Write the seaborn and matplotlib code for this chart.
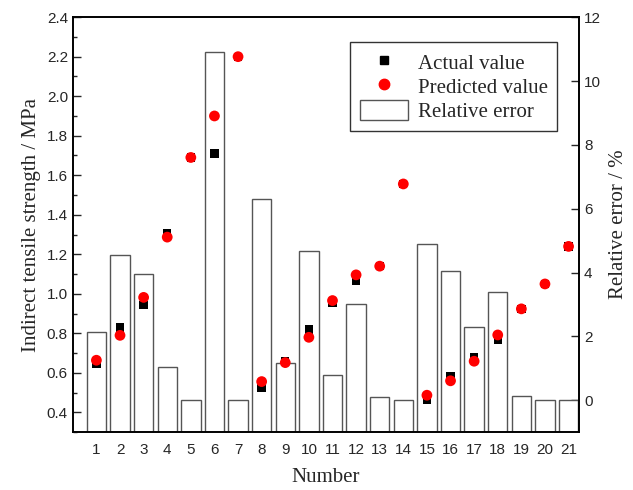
"""Indirect tensile strength: actual vs predicted, with relative error bars"""

import numpy as np
import matplotlib
matplotlib.use('Agg')
import matplotlib.pyplot as plt
import seaborn as sns
from matplotlib.lines import Line2D
from matplotlib.patches import Patch

# Data
numbers = list(range(1, 22))
actual = [0.645, 0.83, 0.945, 1.305, 1.69, 1.71, 2.20, 0.525, 0.66, 0.82, 0.955,
          1.064, 1.14, 1.556, 0.465, 0.585, 0.678, 0.768, 0.924, 1.05, 1.24]
predicted = [0.664, 0.79, 0.982, 1.287, 1.69, 1.90, 2.20, 0.556, 0.652, 0.78, 0.966,
             1.096, 1.14, 1.556, 0.487, 0.56, 0.659, 0.792, 0.924, 1.05, 1.24]
rel_error = [2.15, 4.54, 3.94, 1.04, 0.02, 10.92, 0.01, 6.29, 1.18, 4.66, 0.80,
             3.03, 0.10, 0.02, 4.90, 4.05, 2.30, 3.40, 0.13, 0.02, 0.02]

sns.set_style('ticks')
plt.rcParams['font.family'] = ['Liberation Sans', 'DejaVu Sans']
serif = ['Liberation Serif', 'DejaVu Serif']

fig = plt.figure(figsize=(6.33, 4.9), dpi=100)
ax1 = fig.add_axes([0.115, 0.118, 0.8, 0.847])
ax2 = ax1.twinx()

# Relative error columns on the right axis, drawn from the axis bottom
err_bottom = -1
ax2.bar(numbers, np.array(rel_error) - err_bottom, bottom=err_bottom, width=0.82,
        facecolor='white', edgecolor='#555555', linewidth=1.0)
ax2.set_ylim(-1, 12)
ax2.set_yticks([0, 2, 4, 6, 8, 10, 12])
ax2.set_ylabel('Relative error / %', family=serif, fontsize=15, labelpad=6)

# Points on the left axis, kept above the bars
ax1.set_zorder(ax2.get_zorder() + 1)
ax1.patch.set_visible(False)
sns.scatterplot(x=numbers, y=actual, marker='s', s=36, color='black',
                edgecolor='none', ax=ax1)
sns.scatterplot(x=numbers, y=predicted, marker='o', s=60, color='red',
                edgecolor='none', ax=ax1)
ax1.set_xlim(0.0, 21.45)
ax1.set_ylim(0.3, 2.4)
ax1.set_yticks(np.arange(0.4, 2.41, 0.2))
ax1.set_yticks(np.arange(0.3, 2.41, 0.2), minor=True)
ax1.set_xticks(numbers)
ax1.set_ylabel('Indirect tensile strength / MPa', family=serif, fontsize=15, labelpad=4)
ax1.set_xlabel('Number', family=serif, fontsize=15, labelpad=8)

ax1.tick_params(axis='y', direction='in', length=6, width=1, labelsize=11)
ax1.tick_params(axis='y', which='minor', direction='in', length=3, width=1)
ax1.tick_params(axis='x', length=0, labelsize=11, pad=8)
ax2.tick_params(axis='y', direction='in', length=6, width=1, labelsize=11)
for ax in (ax1, ax2):
    for sp in ax.spines.values():
        sp.set_linewidth(1.2)
        sp.set_color('black')

handles = [
    Line2D([], [], marker='s', color='black', linestyle='none', markersize=6),
    Line2D([], [], marker='o', color='red', linestyle='none', markersize=7.5),
    Patch(facecolor='white', edgecolor='#555555', linewidth=1.0),
]
labels = ['Actual value', 'Predicted value', 'Relative error']
leg = ax1.legend(handles, labels, loc='upper right', bbox_to_anchor=(0.957, 0.94),
                 prop={'family': serif, 'size': 15}, frameon=True, fancybox=False,
                 edgecolor='black', borderpad=0.45, labelspacing=0.1,
                 handlelength=2.3, handleheight=1.1, handletextpad=0.5,
                 borderaxespad=0)
leg.get_frame().set_linewidth(1.0)

fig.savefig('out.png', dpi=100)
